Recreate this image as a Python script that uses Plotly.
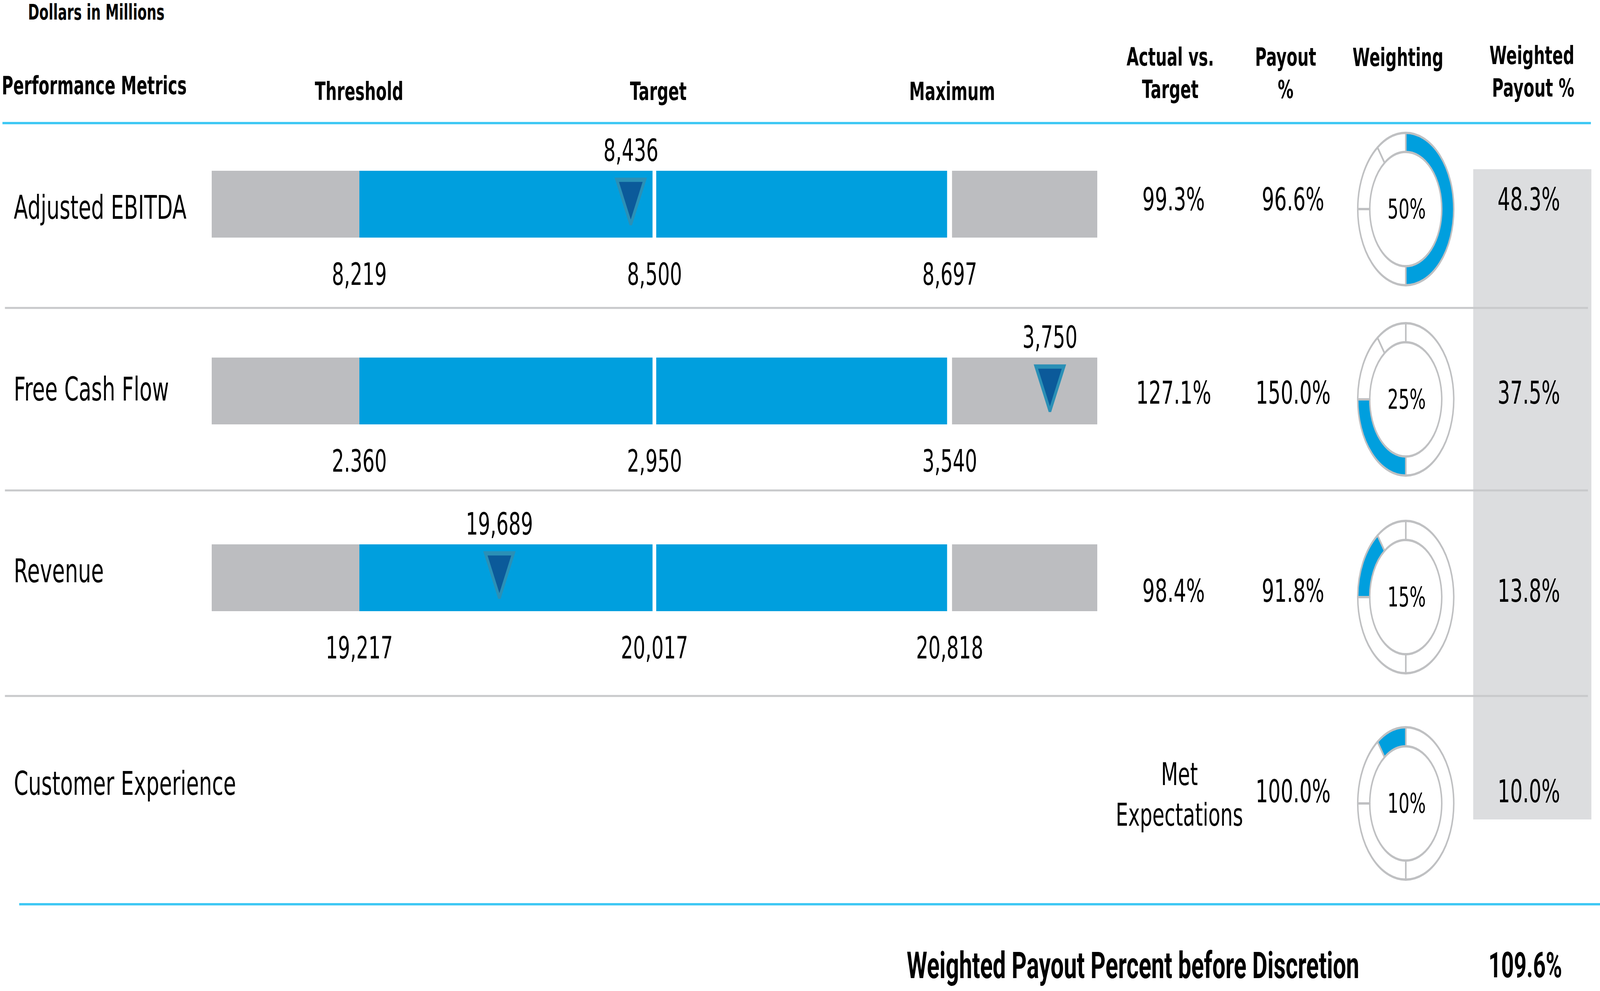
import plotly.graph_objects as go

# ---------------- data ----------------
metrics = ["Adjusted EBITDA", "Free Cash Flow", "Revenue", "Customer Experience"]
scale_names = ["Threshold", "Target", "Maximum"]
threshold_labels = ["8,219", "2.360", "19,217"]
target_labels = ["8,500", "2,950", "20,017"]
maximum_labels = ["8,697", "3,540", "20,818"]
actual_labels = ["8,436", "3,750", "19,689"]
# where the actual result sits on the bar scale (0 = threshold, 1 = target, 2 = maximum)
actual_scale_pos = [0.92, 2.34, 0.475]
actual_vs_target = ["99.3%", "127.1%", "98.4%", "Met<br>Expectations"]
payout_pct = ["96.6%", "150.0%", "91.8%", "100.0%"]
weights = [50, 25, 15, 10]
weighted_payout = ["48.3%", "37.5%", "13.8%", "10.0%"]
total_label = "Weighted Payout Percent before Discretion"
total_value = "109.6%"
units_note = "Dollars in Millions"

scale_points = [0, 1, 2]
band_edges = [-0.5, 0, 1, 2, 2.5]

# ---------------- styling / layout constants ----------------
W, H = 6499, 2536

BLUE = "#009FDE"
GRAY = "#BCBDC0"
LINE_BLUE = "#3FC8F4"
SEP_GRAY = "#C8C9CB"
BOX_GRAY = "#DCDDDF"
DONUT_LINE = "#BFC0C2"
TRI_FILL = "#0B5A9A"
TRI_LINE = "#2B90B6"

REG = "DejaVu Sans"
BOLD = "DejaVu Sans"
BOT = "Roboto"

X0_PX, UNIT_PX = 1459, 1199     # threshold position and px per scale step
Y0_PX, ROW_PX = 522, 478        # first bar centre and px per row
BAR_PX = 171

ROW_LABEL_Y = [531, 996, 1461, 2005]
VAL_Y = [511, 1005, 1513, 2025]
DONUT_Y = [535, 1022, 1528, 2056]
DONUT_X = 5710
DONUT_D = 390


def PX(x):
    return x / W


def PY(y):
    return 1 - y / H


band_colors = [GRAY, BLUE, BLUE, GRAY]
rows = list(range(len(actual_labels)))

fig = go.Figure()

# bullet bars
for k in range(len(band_edges) - 1):
    fig.add_trace(go.Bar(
        y=rows,
        x=[band_edges[k + 1] - band_edges[k]] * len(rows),
        base=[band_edges[k]] * len(rows),
        orientation="h",
        width=BAR_PX / ROW_PX,
        marker=dict(color=band_colors[k], line=dict(width=0)),
        hoverinfo="skip",
        showlegend=False,
    ))

shapes = []
# white gaps at target and maximum
for r in rows:
    for p, wdt in zip(scale_points[1:], [15, 20]):
        shapes.append(dict(type="line", xref="x", yref="y", x0=p, x1=p,
                           y0=r - BAR_PX / ROW_PX / 2 - 0.01, y1=r + BAR_PX / ROW_PX / 2 + 0.01,
                           line=dict(color="white", width=wdt), layer="above"))

# actual markers (arrow-down symbol: tip sits at the data point)
TIP_PX = 52
fig.add_trace(go.Scatter(
    x=actual_scale_pos,
    y=[r + TIP_PX / ROW_PX for r in rows],
    mode="markers",
    marker=dict(symbol="arrow-down", size=114, color=TRI_FILL,
                line=dict(color=TRI_LINE, width=11)),
    hoverinfo="skip", showlegend=False, cliponaxis=False,
))

# donuts
for i, w in enumerate(weights):
    cols = [BLUE if j == i else "white" for j in range(len(weights))]
    cy = DONUT_Y[i]
    fig.add_trace(go.Pie(
        values=weights,
        marker=dict(colors=cols, line=dict(color=DONUT_LINE, width=6)),
        hole=0.75, sort=False, direction="clockwise", rotation=0,
        textinfo="none", hoverinfo="skip", showlegend=False,
        domain=dict(x=[PX(DONUT_X - DONUT_D / 2), PX(DONUT_X + DONUT_D / 2)],
                    y=[PY(cy + DONUT_D / 2), PY(cy - DONUT_D / 2)]),
    ))

# weighted payout box
shapes.append(dict(type="rect", xref="paper", yref="paper",
                   x0=PX(5984), x1=PX(6464), y0=PY(2097), y1=PY(433),
                   fillcolor=BOX_GRAY, line=dict(width=0), layer="below"))
# lines
shapes.append(dict(type="line", xref="paper", yref="paper", x0=PX(10), x1=PX(6462),
                   y0=PY(315), y1=PY(315), line=dict(color=LINE_BLUE, width=6)))
shapes.append(dict(type="line", xref="paper", yref="paper", x0=PX(78), x1=PX(6499),
                   y0=PY(2314), y1=PY(2314), line=dict(color=LINE_BLUE, width=6)))
for y in [788, 1255, 1781]:
    shapes.append(dict(type="line", xref="paper", yref="paper", x0=PX(20), x1=PX(6450),
                       y0=PY(y), y1=PY(y), line=dict(color=SEP_GRAY, width=5)))

ann = []


def txt(text, x, y, size, family=REG, bold=False, xanchor="center", align="center", **kw):
    d = dict(text=text, x=x, y=y, showarrow=False, xanchor=xanchor, yanchor="middle",
             align=align,
             font=dict(family=family, size=size, color="black", weight=700 if bold else 400))
    d.update(kw)
    if "xref" not in d:
        d["xref"] = "paper"
        d["yref"] = "paper"
        d["x"] = PX(x)
        d["y"] = PY(y)
    ann.append(d)


# headers
txt(units_note, 112, 31, 55, BOLD, True, xanchor="left")
txt("Performance Metrics", 5, 219, 64, BOLD, True, xanchor="left")
for nm, xp in zip(scale_names, [1459, 2674, 3867]):
    txt(nm, xp, 234, 64, BOLD, True)
txt("Actual vs.<br>Target", 4753, 188, 64, BOLD, True)
txt("Payout<br>%", 5222, 188, 64, BOLD, True)
txt("Weighting", 5678, 147, 64, BOLD, True)
txt("Weighted<br>Payout %", 6397, 184, 64, BOLD, True, xanchor="right", align="right")

# row labels
for i, m in enumerate(metrics):
    txt(m, 54, ROW_LABEL_Y[i], 84, REG, xanchor="left")

# bar labels
for i in rows:
    for p, lab in zip(scale_points, [threshold_labels[i], target_labels[i], maximum_labels[i]]):
        txt(lab, p, i, 78, REG, xref="x", yref="y", yshift=-180)
    txt(actual_labels[i], actual_scale_pos[i], i, 78, REG, xref="x", yref="y", yshift=137)

# value columns
for i in range(len(metrics)):
    multi = "<br>" in actual_vs_target[i]
    txt(actual_vs_target[i], 4790 if multi else 4767, VAL_Y[i] + (8 if multi else 0), 80, REG)
    txt(payout_pct[i], 5252, VAL_Y[i], 80, REG)
    txt(f"{weights[i]}%", DONUT_X + 4, DONUT_Y[i], 70, REG)
    txt(weighted_payout[i], 6210, VAL_Y[i], 80, REG)

# total
txt(total_label, 3681, 2470, 95, BOT, True, xanchor="left")
txt(total_value, 6195, 2470, 90, BOT, True)

fig.update_layout(
    width=W, height=H, autosize=False,
    margin=dict(l=0, r=0, t=0, b=0, pad=0),
    paper_bgcolor="white", plot_bgcolor="rgba(0,0,0,0)",
    barmode="overlay", bargap=0,
    xaxis=dict(range=[(0 - X0_PX) / UNIT_PX, (W - X0_PX) / UNIT_PX], domain=[0, 1],
               visible=False, fixedrange=True),
    yaxis=dict(range=[(H - Y0_PX) / ROW_PX, (0 - Y0_PX) / ROW_PX], domain=[0, 1],
               visible=False, fixedrange=True),
    shapes=shapes,
    annotations=ann,
    showlegend=False,
)

# fit the 6499x2536 figure into whatever viewport the browser actually provides
fit_js = """
document.documentElement.style.margin = '0';
document.body.style.margin = '0';
document.documentElement.style.overflow = 'hidden';
document.body.style.overflow = 'hidden';
var gd = document.getElementById('{plot_id}');
var sx = window.innerWidth / %d, sy = window.innerHeight / %d;
if (Math.abs(sx - 1) > 0.002 || Math.abs(sy - 1) > 0.002) {
  gd.style.transformOrigin = '0 0';
  gd.style.transform = 'scale(' + sx + ',' + sy + ')';
}
""" % (W, H)

fig.write_html("out.html", config={"displayModeBar": False}, post_script=fit_js)
